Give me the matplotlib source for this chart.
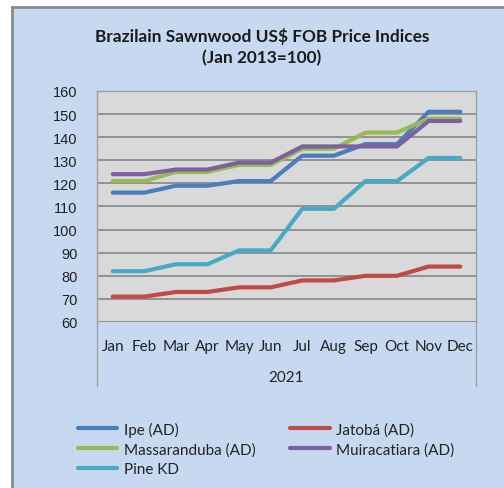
import matplotlib
matplotlib.use("Agg")
import matplotlib.pyplot as plt
from matplotlib.lines import Line2D
from matplotlib.patches import Rectangle

months = ["Jan", "Feb", "Mar", "Apr", "May", "Jun", "Jul", "Aug", "Sep", "Oct", "Nov", "Dec"]
year_label = "2021"
title = "Brazilain Sawnwood US$ FOB Price Indices\n(Jan 2013=100)"

ipe = [116, 116, 119, 119, 121, 121, 132, 132, 137, 137, 151, 151]
jatoba = [71, 71, 73, 73, 75, 75, 78, 78, 80, 80, 84, 84]
massaranduba = [121, 121, 125, 125, 128, 128, 135, 135, 142, 142, 148, 148]
muiracatiara = [124, 124, 126, 126, 129, 129, 136, 136, 136, 136, 147, 147]
pine = [82, 82, 85, 85, 91, 91, 109, 109, 121, 121, 131, 131]

series_names = ["Ipe (AD)", "Jatobá (AD)", "Massaranduba (AD)", "Muiracatiara (AD)", "Pine KD"]
series_values = [ipe, jatoba, massaranduba, muiracatiara, pine]
series_colors = ["#4A7EBB", "#BE4B48", "#98B954", "#7D60A0", "#46AAC5"]
yticks = list(range(60, 161, 10))

W, H = 504, 489
fig = plt.figure(figsize=(W / 100, H / 100), dpi=100)
fig.patch.set_facecolor("white")

bg_x0 = 11.5 / W
bg_top = 1 - 7.5 / H
fig.patches.append(Rectangle((bg_x0, 0), 1 - bg_x0, bg_top, transform=fig.transFigure,
                             facecolor="#C6D9F1", edgecolor="none", zorder=-5))
fig.add_artist(Line2D([bg_x0, bg_x0], [0, bg_top], transform=fig.transFigure, color="#8A8A8A", lw=2.0))
fig.add_artist(Line2D([bg_x0, 1], [bg_top, bg_top], transform=fig.transFigure, color="#8A8A8A", lw=2.0))

ax_l, ax_r = 97 / W, 476 / W
ax_t, ax_b = 1 - 92 / H, 1 - 323 / H
ax = fig.add_axes([ax_l, ax_b, ax_r - ax_l, ax_t - ax_b])
ax.set_facecolor("#D9D9D9")

x = list(range(len(months)))
lines = []
for name, vals, col in zip(series_names, series_values, series_colors):
    ln, = ax.plot(x, vals, color=col, lw=3.0, label=name, solid_capstyle="round", zorder=3)
    lines.append(ln)

ax.set_xlim(-0.5, len(months) - 0.5)
ax.set_ylim(60, 160)
ax.set_yticks(yticks)
ax.set_yticklabels([str(v) for v in yticks], fontsize=10.5, family="Liberation Sans", color="#222222")
ax.set_xticks(x)
ax.set_xticklabels(months, fontsize=11, family="Lato", color="#222222")
ax.tick_params(axis="y", length=0, pad=14)
ax.tick_params(axis="x", length=0, pad=12)
ax.grid(axis="y", color="#8C8C8C", lw=1.3)
ax.set_axisbelow(True)
for s in ["top", "right", "left"]:
    ax.spines[s].set_color("#A0A0A0")
    ax.spines[s].set_linewidth(1.0)
ax.spines["bottom"].set_visible(False)

# category group box lines
yb = 1 - 387 / H
for xx in (ax_l, ax_r):
    fig.add_artist(Line2D([xx, xx], [ax_b, yb], transform=fig.transFigure, color="#A0A0A0", lw=1.0))
fig.text((ax_l + ax_r) / 2, 1 - 378 / H, year_label, ha="center", va="center",
         fontsize=11, family="Lato", color="#222222")

fig.text(262 / W, 1 - 47 / H, title, ha="center", va="center", fontsize=12.4, fontweight="bold",
         family="Lato", color="#1a1a1a", linespacing=1.35)

order = [0, 2, 4, 1, 3]
leg = fig.legend([lines[i] for i in order], [series_names[i] for i in order], ncol=2,
                 loc="upper left", bbox_to_anchor=(64 / W, 1 - 409 / H), frameon=False,
                 prop={"family": "Lato", "size": 11}, handlelength=2.6, handletextpad=0.4,
                 columnspacing=2.3, labelspacing=0.35)
for t in leg.get_texts():
    t.set_color("#222222")

fig.savefig("out.png", dpi=100)
